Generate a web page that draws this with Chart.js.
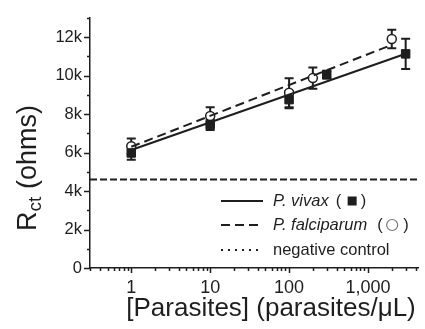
<!DOCTYPE html>
<html>
<head>
<meta charset="utf-8">
<script src="https://cdn.jsdelivr.net/npm/chart.js@4/dist/chart.umd.min.js"></script>
<style>
  html, body { margin: 0; padding: 0; background: #fff; }
  #wrap { width: 425px; height: 329px; }
</style>
</head>
<body>
<div id="wrap"><canvas id="chart"></canvas></div>
<script>
// --- data ---
const vivaxX = [1, 10, 100, 300, 3000];
const vivaxY = [5980, 7450, 8750, 10050, 11130];
const vivaxErr = [350, 280, 450, 200, 780];

const falcX = [1, 10, 100, 200, 2000];
const falcY = [6330, 7900, 9110, 9870, 11900];
const falcErr = [400, 450, 750, 550, 480];

// fitted lines (end points)
const vivaxFitX = [1, 3000];
const vivaxFitY = [6130, 11140];
const falcFitX = [1, 2000];
const falcFitY = [6300, 11600];

// negative control level across the whole axis
const controlX = [0.3, 4300];
const controlY = [4600, 4600];

const xTicks = [1, 10, 100, 1000];
const yTicks = [0, 2000, 4000, 6000, 8000, 10000, 12000];

const ink = "#1e1e1e";
const font = "'Liberation Sans', Arial, sans-serif";

const pts = (xs, ys) => xs.map((x, i) => ({ x: x, y: ys[i] }));

// error bars, drawn under the markers
const errorBars = {
  id: "errorBars",
  beforeDatasetsDraw(chart) {
    const { ctx, scales: { x, y } } = chart;
    ctx.save();
    ctx.strokeStyle = ink;
    ctx.lineWidth = 2;
    const draw = (xs, ys, es) => {
      xs.forEach((v, i) => {
        const px = x.getPixelForValue(v);
        const top = y.getPixelForValue(ys[i] + es[i]);
        const bot = y.getPixelForValue(ys[i] - es[i]);
        ctx.beginPath();
        ctx.moveTo(px, top); ctx.lineTo(px, bot);
        ctx.moveTo(px - 4.5, top); ctx.lineTo(px + 4.5, top);
        ctx.moveTo(px - 4.5, bot); ctx.lineTo(px + 4.5, bot);
        ctx.stroke();
      });
    };
    draw(vivaxX, vivaxY, vivaxErr);
    draw(falcX, falcY, falcErr);
    ctx.restore();
  }
};

// tick marks (major + minor) and axis titles, legend
const decorations = {
  id: "decorations",
  afterDraw(chart) {
    const { ctx, chartArea, scales: { x, y } } = chart;
    ctx.save();
    ctx.strokeStyle = ink;
    ctx.lineWidth = 1.5;
    ctx.beginPath();
    for (let d = -1; d <= 3; d++) {
      for (let m = 1; m <= 9; m++) {
        const v = m * Math.pow(10, d);
        if (v < x.min * 0.999 || v > x.max) continue;
        const px = Math.round(x.getPixelForValue(v)) + 0.5;
        ctx.moveTo(px, chartArea.bottom);
        ctx.lineTo(px, chartArea.bottom + (m === 1 ? 5 : 3));
      }
    }
    for (let v = 0; v <= y.max; v += 1000) {
      const py = Math.round(y.getPixelForValue(v)) + 0.5;
      ctx.moveTo(chartArea.left, py);
      ctx.lineTo(chartArea.left - (v % 2000 === 0 ? 6 : 3), py);
    }
    ctx.stroke();

    // x title
    ctx.fillStyle = ink;
    ctx.textAlign = "center";
    ctx.textBaseline = "middle";
    ctx.font = "26px " + font;
    ctx.fillText("[Parasites] (parasites/\u03bcL)", 271, 309);

    // y title with subscript
    ctx.save();
    ctx.translate(29, 168);
    ctx.rotate(-Math.PI / 2);
    const big = "27px " + font, small = "19px " + font;
    ctx.font = big;
    const wR = ctx.measureText("R").width;
    const wRest = ctx.measureText(" (ohms)").width;
    ctx.font = small;
    const wSub = ctx.measureText("ct").width;
    let cx = -(wR + wSub + wRest) / 2;
    ctx.textAlign = "left";
    ctx.font = big;
    ctx.fillText("R", cx, 0);
    cx += wR;
    ctx.font = small;
    ctx.fillText("ct", cx, 7);
    cx += wSub;
    ctx.font = big;
    ctx.fillText(" (ohms)", cx, 0);
    ctx.restore();

    // legend
    const rows = [201, 225, 250];
    const x0 = 221, x1 = 263, tx = 273;
    ctx.lineWidth = 2;
    ctx.beginPath();
    ctx.setLineDash([]);
    ctx.moveTo(x0, rows[0]); ctx.lineTo(x1, rows[0]);
    ctx.stroke();
    ctx.beginPath();
    ctx.setLineDash([9, 5]);
    ctx.moveTo(x0, rows[1]); ctx.lineTo(x1, rows[1]);
    ctx.stroke();
    ctx.beginPath();
    ctx.setLineDash([2, 5]);
    ctx.moveTo(x0, rows[2]); ctx.lineTo(x1, rows[2]);
    ctx.stroke();
    ctx.setLineDash([]);

    ctx.textAlign = "left";
    ctx.font = "italic 16.5px " + font;
    ctx.fillText("P. vivax", tx, rows[0]);
    let w = ctx.measureText("P. vivax").width;
    ctx.font = "16.5px " + font;
    ctx.fillText("(", tx + w + 7, rows[0]);
    ctx.fillRect(tx + w + 19, rows[0] - 4.5, 9, 9);
    ctx.fillText(")", tx + w + 32, rows[0]);

    ctx.font = "italic 16.5px " + font;
    ctx.fillText("P. falciparum", tx, rows[1]);
    w = ctx.measureText("P. falciparum").width;
    ctx.font = "16.5px " + font;
    ctx.fillText("(", tx + w + 10, rows[1]);
    ctx.beginPath();
    ctx.lineWidth = 1.2;
    ctx.strokeStyle = "#777";
    ctx.arc(tx + w + 25, rows[1], 5.5, 0, Math.PI * 2);
    ctx.stroke();
    ctx.fillText(")", tx + w + 36, rows[1]);

    ctx.fillText("negative control", tx, rows[2]);
    ctx.restore();
  }
};

new Chart(document.getElementById("chart"), {
  type: "scatter",
  data: {
    datasets: [
      {
        label: "negative control",
        data: pts(controlX, controlY),
        showLine: true,
        borderColor: ink,
        borderWidth: 2,
        borderDash: [7, 3],
        pointRadius: 0,
      },
      {
        label: "vivax fit",
        data: pts(vivaxFitX, vivaxFitY),
        showLine: true,
        borderColor: ink,
        borderWidth: 2,
        pointRadius: 0,
      },
      {
        label: "falciparum fit",
        data: pts(falcFitX, falcFitY),
        showLine: true,
        borderColor: ink,
        borderWidth: 2,
        borderDash: [9, 5],
        pointRadius: 0,
      },
      {
        label: "P. vivax",
        data: pts(vivaxX, vivaxY),
        pointStyle: "rect",
        pointRadius: 6,
        backgroundColor: ink,
        borderColor: ink,
        borderWidth: 1,
      },
      {
        label: "P. falciparum",
        data: pts(falcX, falcY),
        pointStyle: "circle",
        pointRadius: 4.5,
        backgroundColor: "#fff",
        borderColor: ink,
        borderWidth: 1.5,
      },
    ],
  },
  options: {
    responsive: true,
    maintainAspectRatio: false,
    animation: false,
    layout: { padding: { top: 10, right: 3, left: 0, bottom: 0 } },
    plugins: { legend: { display: false }, tooltip: { enabled: false } },
    scales: {
      x: {
        type: "logarithmic",
        min: controlX[0],
        max: controlX[1],
        afterBuildTicks: (s) => { s.ticks = xTicks.map((v) => ({ value: v })); },
        afterFit: (s) => { s.height = 61; },
        grid: { display: false, drawTicks: false },
        border: { display: true, color: ink, width: 1.5 },
        ticks: {
          color: ink,
          padding: 9,
          maxRotation: 0,
          autoSkip: false,
          font: { family: font, size: 18 },
          callback: (v) => Number(v).toLocaleString("en-US"),
        },
      },
      y: {
        min: 0,
        max: 13000,
        afterBuildTicks: (s) => { s.ticks = yTicks.map((v) => ({ value: v })); },
        afterFit: (s) => { s.width = 90; },
        grid: { display: false, drawTicks: false },
        border: { display: true, color: ink, width: 1.5 },
        ticks: {
          color: ink,
          padding: 8,
          font: { family: font, size: 16.5 },
          callback: (v) => (v === 0 ? "0" : v / 1000 + "k"),
        },
      },
    },
  },
  plugins: [errorBars, decorations],
});
</script>
</body>
</html>
